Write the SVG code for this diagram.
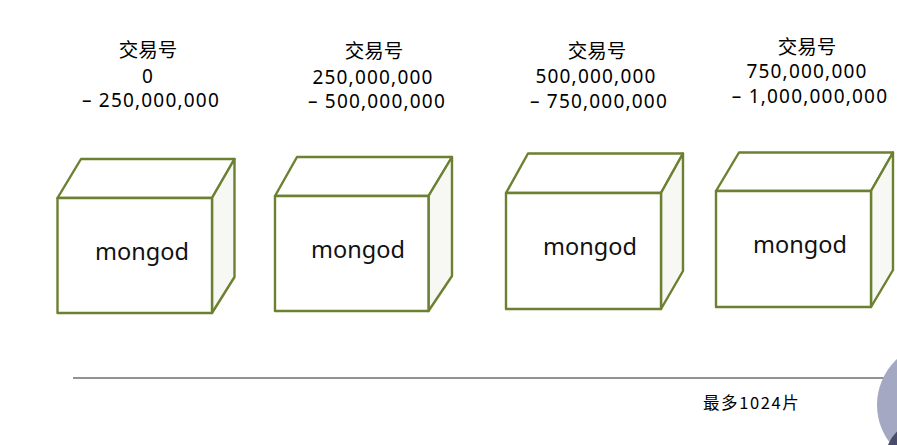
<svg xmlns="http://www.w3.org/2000/svg" width="897" height="445" viewBox="0 0 897 445">
<style>
.face{fill:#ffffff;stroke:#6b8030;stroke-width:2.4;stroke-linejoin:round}
.side{fill:#f7f7f4;stroke:#6b8030;stroke-width:2.4;stroke-linejoin:round}
.mg{font-family:"Noto Sans","Open Sans",sans-serif;font-size:23.5px;fill:#111;text-anchor:middle}
.lb{font-family:"Noto Sans","Noto Sans CJK SC",sans-serif;font-size:19px;letter-spacing:1.2px;fill:#000;text-anchor:middle}
.lbc{font-family:"Noto Sans CJK SC",sans-serif;font-size:19.5px;fill:#000;text-anchor:middle}
.nt{font-family:"Noto Sans CJK SC",sans-serif;font-size:16.5px;letter-spacing:1.6px;fill:#000}
</style>
<rect width="897" height="445" fill="#ffffff"/>

<g id="label1">
<text class="lbc" x="148" y="57">交易号</text>
<text class="lb" x="148" y="83">0</text>
<text class="lb" x="151" y="107">– 250,000,000</text>
</g>
<g id="label2">
<text class="lbc" x="374" y="58">交易号</text>
<text class="lb" x="373" y="84">250,000,000</text>
<text class="lb" x="377" y="108">– 500,000,000</text>
</g>
<g id="label3">
<text class="lbc" x="597" y="58">交易号</text>
<text class="lb" x="596" y="83">500,000,000</text>
<text class="lb" x="599" y="108">– 750,000,000</text>
</g>
<g id="label4">
<text class="lbc" x="807" y="54">交易号</text>
<text class="lb" x="807" y="78">750,000,000</text>
<text class="lb" x="810" y="103">– 1,000,000,000</text>
</g>

<g id="node1">
<polygon class="face" points="57.5,198 81,159 234.5,159 212,198"/>
<polygon class="side" points="212,198 234.5,159 234.5,277 212,313"/>
<rect class="face" x="57.5" y="198" width="154.5" height="115"/>
<text class="mg" x="142" y="260">mongod</text>
</g>
<g id="node2">
<polygon class="face" points="275,196 297,157 452,157 428.5,196"/>
<polygon class="side" points="428.5,196 452,157 452,276 428.5,311"/>
<rect class="face" x="275" y="196" width="153.5" height="115"/>
<text class="mg" x="358" y="258">mongod</text>
</g>
<g id="node3">
<polygon class="face" points="506,193 528,153.5 683,153.5 661,193"/>
<polygon class="side" points="661,193 683,153.5 683,271 661,309"/>
<rect class="face" x="506" y="193" width="155" height="116"/>
<text class="mg" x="590" y="255">mongod</text>
</g>
<g id="node4">
<polygon class="face" points="716,191 739,152.5 893,152.5 871,191"/>
<polygon class="side" points="871,191 893,152.5 893,270 871,307"/>
<rect class="face" x="716" y="191" width="155" height="116"/>
<text class="mg" x="800" y="253">mongod</text>
</g>

<g id="connectors">
<line x1="73" y1="378" x2="884" y2="378" stroke="#6e6e6e" stroke-width="1.5"/>
</g>

<text class="nt" x="703" y="409">最多1024片</text>

<g id="corner">
<circle cx="940" cy="405" r="63" fill="#a5a8c2"/>
<circle cx="925" cy="460" r="40" fill="#4b4c6b"/>
</g>
</svg>
